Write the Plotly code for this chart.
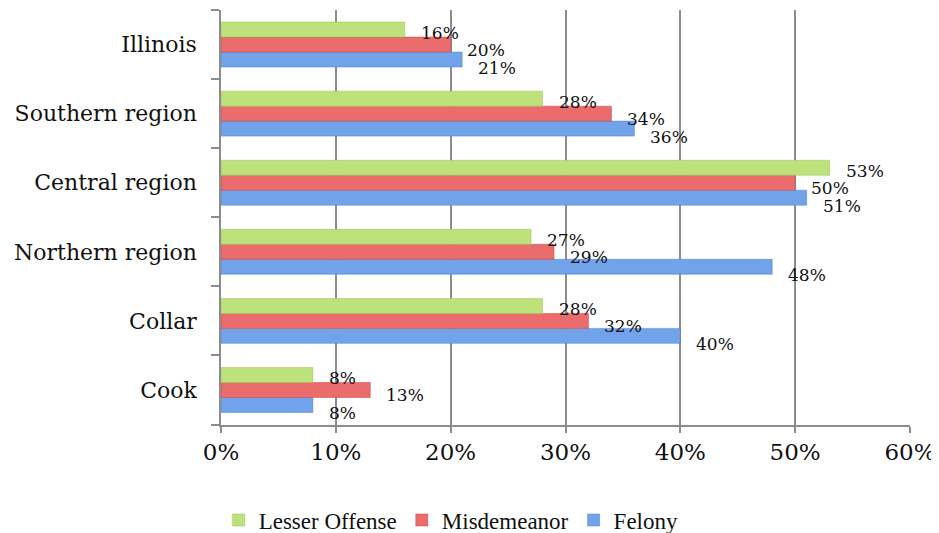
import plotly.graph_objects as go

categories = ["Cook", "Collar", "Northern region", "Central region", "Southern region", "Illinois"]
felony = [0.08, 0.40, 0.48, 0.51, 0.36, 0.21]
misdemeanor = [0.13, 0.32, 0.29, 0.50, 0.34, 0.20]
lesser = [0.08, 0.28, 0.27, 0.53, 0.28, 0.16]
x_ticks = [0, 0.1, 0.2, 0.3, 0.4, 0.5, 0.6]

series = [
    ("Felony", felony, "#72a2ea", "#4a7fcf", -23),
    ("Misdemeanor", misdemeanor, "#ea6c6c", "#c94444", -5),
    ("Lesser Offense", lesser, "#bde27c", "#98c34c", 12),
]

tick_family = "DejaVu Serif"
legend_family = "Liberation Serif"
fig = go.Figure()
annotations = []
for name, vals, color, lcolor, ysh in series:
    fig.add_trace(go.Bar(
        y=categories, x=vals, name=name, orientation="h",
        marker=dict(color=color, line=dict(color=lcolor, width=0.5)),
    ))
    for c, v in zip(categories, vals):
        annotations.append(dict(
            x=v, y=c, text=f"{round(v*100)}%", showarrow=False,
            xanchor="left", xshift=14, yshift=ysh,
            font=dict(family=tick_family, size=17, color="#111"),
        ))

# page body has an 8px margin, so figure is sized/offset to compensate
fig.update_layout(
    width=931, height=525,
    margin=dict(l=213, r=29, t=2, b=108, autoexpand=False),
    paper_bgcolor="white", plot_bgcolor="white",
    barmode="group", bargap=0.35, bargroupgap=0,
    font=dict(family=tick_family, size=22, color="#111"),
    showlegend=True,
    legend=dict(orientation="h", x=0.334, xanchor="center", y=-0.229, yanchor="middle",
                traceorder="reversed", font=dict(size=23, family=legend_family, color="#111")),
    annotations=annotations,
)
fig.update_xaxes(
    range=[0, 0.6], tickvals=x_ticks, tickformat=".0%", automargin=False,
    showgrid=True, gridcolor="#8c8c8c", gridwidth=1.5,
    showline=True, linecolor="#8c8c8c", linewidth=1.5,
    ticks="outside", ticklen=6, tickcolor="#8c8c8c", tickwidth=1.5,
    zeroline=False, tickfont=dict(size=23),
)
fig.update_yaxes(
    categoryorder="array", categoryarray=categories, automargin=False,
    showline=True, linecolor="#8c8c8c", linewidth=1.5,
    ticks="outside", tickson="boundaries", ticklen=8, tickcolor="#8c8c8c", tickwidth=1.5,
    ticklabelstandoff=18,
    showgrid=False, tickfont=dict(size=22),
)
fig.write_html("out.html")
